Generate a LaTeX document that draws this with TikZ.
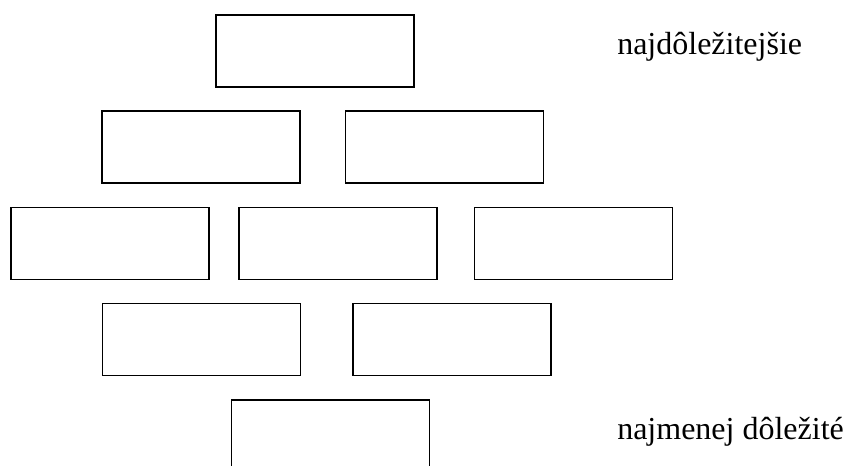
\documentclass[tikz,border=0pt]{standalone}
\usepackage{fontspec}
\setmainfont{Liberation Serif}

\tikzset{
    brick/.style={draw, rectangle, line width=1.1pt, inner sep=0pt,
                  minimum width=148.5pt, minimum height=54pt},
    rank/.style={anchor=base west, inner sep=0pt, font=\fontsize{24}{28}\selectfont}
}

\begin{document}
\begin{tikzpicture}[x=0.75pt, y=0.75pt]
        \clip (0,0) rectangle (846,465);

        % Top row
        \node[brick] (r1a) at (315,414) {};

        % Second row
        \node[brick] (r2a) at (201,318) {};
        \node[brick] (r2b) at (444.5,318) {};

        % Middle row
        \node[brick] (r3a) at (110,221.5) {};
        \node[brick] (r3b) at (338,221.5) {};
        \node[brick] (r3c) at (573.5,221.5) {};

        % Fourth row
        \node[brick] (r4a) at (201.5,125.5) {};
        \node[brick] (r4b) at (452,125.5) {};

        % Bottom row, cut off by the edge
        \node[brick] (r5a) at (330.5,29) {};

        % Labels
        \node[rank] (most) at (617,410) {najdôležitejšie};
        \node[rank] (least) at (617,26) {najmenej dôležité};
    \end{tikzpicture}
\end{document}
